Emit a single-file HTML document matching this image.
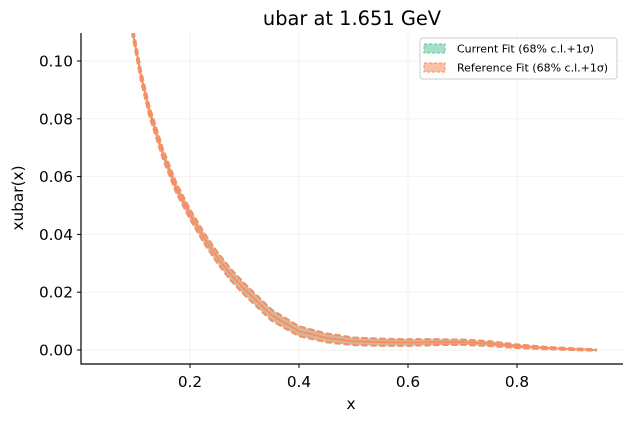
<!DOCTYPE html>
<html><head><meta charset="utf-8"><style>
body{margin:0;background:#fff;}
svg{font-family:"DejaVu Sans","Liberation Sans",sans-serif;}
</style></head><body>
<svg id="chart" width="632" height="420" viewBox="0 0 632 420">
<defs><clipPath id="plotclip"><rect x="81" y="33" width="542" height="331"/></clipPath></defs>
<text x="352" y="25" text-anchor="middle" font-size="19.4">ubar at 1.651 GeV</text>
<g id="grid"></g>
<g id="bands" clip-path="url(#plotclip)"></g>
<g id="axes"></g>
<text x="351" y="409" text-anchor="middle" font-size="15.3">x</text>
<text x="23" y="198" text-anchor="middle" font-size="15.3" transform="rotate(-90 23 198)">xubar(x)</text>
<g>
<rect x="420" y="38" width="197" height="41" rx="3" fill="#fff" stroke="#ccc"/>
<rect x="424" y="44" width="21" height="9" fill="#a6dfc8" stroke="#66c2a5" stroke-dasharray="3,2"/>
<text x="457" y="52.5" font-size="11">Current Fit (68% c.l.+1σ)</text>
<rect x="424" y="63" width="21" height="9" fill="#f9c1a6" stroke="#fc8d62" stroke-dasharray="3,2"/>
<text x="457" y="71.5" font-size="11">Reference Fit (68% c.l.+1σ)</text>
</g>
</svg>
<script>
const xValues=[0.09,0.095,0.11,0.125,0.15,0.175,0.2,0.225,0.25,0.275,0.3,0.35,0.4,0.45,0.5,0.55,0.6,0.65,0.7,0.75,0.8,0.85,0.9,0.946];
const centralValues=[0.118,0.110,0.095,0.083,0.068,0.056,0.047,0.039,0.032,0.026,0.021,0.012,0.0065,0.0042,0.003,0.0027,0.0026,0.0027,0.0027,0.0022,0.0013,0.0007,0.0003,0.0];
const errorValues=[0.0017,0.0017,0.0017,0.0017,0.0017,0.0017,0.0017,0.0018,0.0019,0.002,0.002,0.0019,0.0017,0.0015,0.0013,0.0012,0.0011,0.001,0.0009,0.0008,0.0006,0.0004,0.0003,0.0002];
const xTicks=[0.2,0.4,0.6,0.8];
const yTicks=[0.00,0.02,0.04,0.06,0.08,0.10];
const NS="http://www.w3.org/2000/svg";
function sx(v){return 81+v*545;}
function sy(v){return 350-v*2890;}
function mk(tag,attrs,parent){const e=document.createElementNS(NS,tag);for(const k in attrs)e.setAttribute(k,attrs[k]);parent.appendChild(e);return e;}
const grid=document.getElementById('grid'),axes=document.getElementById('axes'),bands=document.getElementById('bands');
xTicks.forEach(t=>{
 const g=mk('line',{x1:sx(t),x2:sx(t),y1:33,y2:364,stroke:'#f2f2f2','stroke-width':1},grid);
 
 
 const tk=mk('line',{x1:sx(t),x2:sx(t),y1:364,y2:368,stroke:'#000'},axes);
 
 
 const lb=mk('text',{x:sx(t),y:387,'text-anchor':'middle','font-size':15.3},axes);
 lb.textContent=t.toFixed(1);
 
 
});
yTicks.forEach(t=>{
 const g=mk('line',{x1:81,x2:623,y1:sy(t),y2:sy(t),stroke:'#f2f2f2','stroke-width':1},grid);
 
 
 const tk=mk('line',{x1:77,x2:81,y1:sy(t),y2:sy(t),stroke:'#000'},axes);
 
 
 const lb=mk('text',{x:73,y:sy(t)+5.5,'text-anchor':'end','font-size':15.3},axes);
 lb.textContent=t.toFixed(2);
 
 
});
const al=mk('path',{d:'M81 33 V364 H623',fill:'none',stroke:'#000','stroke-width':1.2},axes);


function pts(f){return xValues.map((x,i)=>sx(x).toFixed(1)+','+sy(f(i)).toFixed(1));}
const up=pts(i=>centralValues[i]+errorValues[i]),lo=pts(i=>centralValues[i]-errorValues[i]),ce=pts(i=>centralValues[i]);
const series=[['current','#66c2a5','rgba(102,194,165,0.5)'],['reference','#fc8d62','rgba(252,141,98,0.5)']];
series.forEach(([nm,col,fill])=>{
 const b=mk('path',{d:'M'+up.join(' L')+' L'+lo.slice().reverse().join(' L')+'Z',fill:fill,stroke:'none'},bands);
 
 
 const u=mk('polyline',{points:up.join(' '),fill:'none',stroke:col,'stroke-width':2,'stroke-dasharray':'6,3'},bands);
 
 
 const l=mk('polyline',{points:lo.join(' '),fill:'none',stroke:col,'stroke-width':2,'stroke-dasharray':'6,3'},bands);
 
 
 const c=mk('polyline',{points:ce.join(' '),fill:'none',stroke:col,'stroke-width':1.8},bands);
 
 
});
</script>
</body></html>
